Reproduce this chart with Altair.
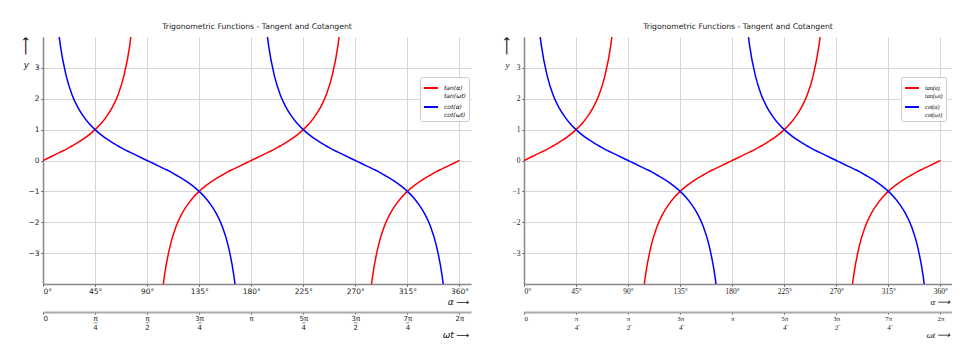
import altair as alt
import pandas as pd

# One branch of the tangent curve:
# offset (degrees) from the branch's zero crossing -> value
branch_offsets = [-80, -77.5, -75, -70, -65, -60, -55, -50, -45, -40, -35, -30, -25, -20,
                  -15, -10, -5, 0, 5, 10, 15, 20, 25, 30, 35, 40, 45, 50, 55, 60, 65, 70,
                  75, 77.5, 80]
branch_values = [-5.67, -4.51, -3.73, -2.75, -2.14, -1.73, -1.43, -1.19, -1.0, -0.84,
                 -0.70, -0.58, -0.47, -0.36, -0.27, -0.18, -0.09, 0.0, 0.09, 0.18, 0.27,
                 0.36, 0.47, 0.58, 0.70, 0.84, 1.0, 1.19, 1.43, 1.73, 2.14, 2.75, 3.73,
                 4.51, 5.67]
tan_centers = [0, 180, 360]     # zero crossings of tan (rising)
cot_centers = [90, 270]         # zero crossings of cot (falling)

series_names = ["tan", "cot"]
series_colors = ["#ff0000", "#0000ff"]
legend_labels = {"tan": ["tan(α)", "tan(ωt)"], "cot": ["cot(α)", "cot(ωt)"]}

deg_ticks = [0, 45, 90, 135, 180, 225, 270, 315, 360]
rad_numerators = ["0", "π", "π", "3π", "π", "5π", "3π", "7π", "2π"]
rad_denominators = ["", "4", "2", "4", "", "4", "2", "4", ""]
y_ticks = [-3, -2, -1, 0, 1, 2, 3]

chart_title = "Trigonometric Functions - Tangent and Cotangent"

rows = []
for name, centers, sign in (("tan", tan_centers, 1), ("cot", cot_centers, -1)):
    for c in centers:
        for off, val in zip(branch_offsets, branch_values):
            d = c + off
            if 0 <= d <= 360:
                rows.append({"deg": d, "val": sign * val, "series": name,
                             "branch": f"{name}{c}"})
curve_df = pd.DataFrame(rows)
tick_df = pd.DataFrame({"deg": deg_ticks})
arrow_df = pd.DataFrame({"t": ["⟶"]})

OVER = "\u0305"  # combining overline: fraction bar drawn above the denominator


def arr(items):
    return "[" + ",".join("'" + s + "'" for s in items) + "]"


rad_entries = []
for d, n, den in zip(deg_ticks, rad_numerators, rad_denominators):
    if den:
        bar_den = den + OVER
        rad_entries.append(f"'{d}': {arr([n, bar_den])}")
    else:
        rad_entries.append(f"'{d}': '{n}'")
rad_expr = "{" + ",".join(rad_entries) + "}[datum.value + '']"
leg_expr = "{" + ",".join(f"'{k}': {arr(v)}" for k, v in legend_labels.items()) + "}[datum.label]"

W, H = 428, 247


def panel(font, title_style):
    xs = alt.Scale(domain=[0, 370], nice=False, zero=False)
    lines = alt.Chart(curve_df).mark_line(clip=True, strokeWidth=1.5, interpolate="monotone").encode(
        x=alt.X("deg:Q", scale=xs, axis=alt.Axis(
            values=deg_ticks, labelExpr="datum.value + '°'", grid=True, gridColor="#d6d6d6",
            gridWidth=1, domainColor="#888888", domainWidth=1.5, tickColor="#444444",
            tickSize=2, labelPadding=1, labelFont=font, labelFontSize=7.5, labelColor="#222",
            title="α ⟶", titleAnchor="end", titleAlign="right", titleX=W - 2, titleY=17,
            titleBaseline="middle", titleFont=font, titleFontSize=9,
            titleFontStyle=title_style, titleFontWeight="normal", titleColor="#111")),
        y=alt.Y("val:Q", scale=alt.Scale(domain=[-4, 4], nice=False), axis=alt.Axis(
            values=y_ticks, grid=True, gridColor="#d6d6d6", gridWidth=1,
            domainColor="#888888", domainWidth=1.5, tickColor="#444444", tickSize=2,
            labelPadding=2, labelFont=font, labelFontSize=7.5, labelColor="#222",
            title="y", titleAngle=0, titleX=-17, titleY=27, titleAlign="center",
            titleBaseline="middle", titleFont=font, titleFontSize=9,
            titleFontStyle=title_style, titleFontWeight="normal", titleColor="#222",
            minExtent=35, maxExtent=35)),
        color=alt.Color("series:N", scale=alt.Scale(domain=series_names, range=series_colors),
                        legend=alt.Legend(
                            title=None, orient="none", legendX=377, legendY=40,
                            labelExpr=leg_expr, labelFont=font, labelFontSize=6,
                            labelFontStyle=title_style,
                            symbolType="stroke", symbolStrokeWidth=2, symbolSize=196,
                            strokeColor="#cccccc", fillColor="white", padding=3,
                            cornerRadius=2, rowPadding=-2, labelOffset=5)),
        detail="branch:N",
    )
    rad_axis = alt.Chart(tick_df).mark_point(opacity=0).encode(
        x=alt.X("deg:Q", scale=xs, axis=alt.Axis(
            orient="bottom", offset=28, values=deg_ticks, labelExpr=rad_expr,
            labelLineHeight=9, labelBaseline="top", grid=False, domainColor="#aaaaaa",
            domainWidth=2.2, tickColor="#444444", tickSize=2, labelPadding=0,
            labelFont=font, labelFontSize=7, labelColor="#222",
            title="ωt ⟶", titleAnchor="end", titleAlign="right", titleX=W - 2, titleY=22,
            titleBaseline="middle", titleFont=font, titleFontSize=9,
            titleFontStyle=title_style, titleFontWeight="normal", titleColor="#111")),
    )
    arrow = alt.Chart(arrow_df).mark_text(angle=270, fontSize=13, color="#111",
                                          font="DejaVu Sans").encode(
        x=alt.value(-17), y=alt.value(9), text="t:N")
    return alt.layer(lines, rad_axis, arrow).resolve_scale(x="independent").properties(
        width=W, height=H,
        title=alt.TitleParams(chart_title, font="DejaVu Sans", fontSize=7.7,
                              fontWeight="normal", color="#222", offset=6, anchor="middle"))


chart = alt.hconcat(panel("DejaVu Sans", "italic"), panel("Liberation Serif", "italic"),
                    spacing=18).resolve_scale(color="independent").configure_view(
    stroke=None).properties(padding={"left": 0, "top": 14, "right": 0, "bottom": 0})

chart.save("out.html", embed_options={"renderer": "svg", "actions": False})
